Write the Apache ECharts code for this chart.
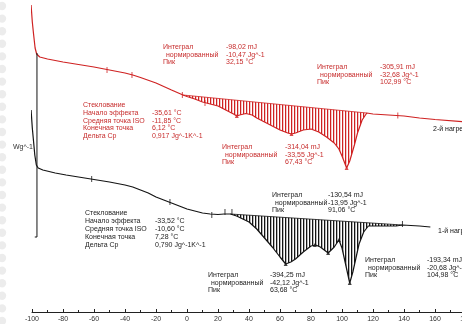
<!DOCTYPE html>
<html>
<head>
<meta charset="utf-8">
<script src="https://cdn.jsdelivr.net/npm/echarts@6/dist/echarts.min.js"></script>
<style>
  html, body { margin: 0; padding: 0; background: #fff; }
  #chart { width: 462px; height: 324px; }
</style>
</head>
<body>
<div id="chart"></div>
<script>
// DSC thermograms: temperature, °C vs. heat flow (relative, offset curves)
const xTicks = { min: -100, max: 180, step: 20 };

// 2nd heating run
const heat2 = [
  [-100.6, -0.05], [-99.8, -0.22], [-99, -0.34], [-98, -0.48], [-97, -0.54],
  [-95, -0.57], [-90, -0.59], [-80, -0.62], [-70, -0.645], [-60, -0.67],
  [-50, -0.70], [-40, -0.73], [-35, -0.75], [-30, -0.775], [-20, -0.83],
  [-10, -0.90], [-2.6, -0.95], [0, -0.965], [5, -0.99], [10, -1.02],
  [15, -1.04], [20, -1.06], [25, -1.10], [30, -1.14], [32.15, -1.16],
  [34, -1.15], [38, -1.135], [42, -1.15], [45, -1.18], [50, -1.22],
  [55, -1.26], [60, -1.30], [65, -1.33], [67.43, -1.34], [70, -1.33],
  [75, -1.30], [80, -1.29], [85, -1.32], [90, -1.37], [95, -1.43],
  [98, -1.49], [100, -1.56], [102.99, -1.68], [105, -1.61], [108, -1.45],
  [110, -1.33], [113, -1.20], [116, -1.13], [120, -1.14], [130, -1.15],
  [140, -1.16], [150, -1.18], [160, -1.195], [180, -1.22]
];
const heat2Baseline = [[-2.6, -0.95], [116, -1.13]];
const heat2Peaks = [[32.15, -1.16], [67.43, -1.34], [102.99, -1.68]];
const heat2Limits = [[-51.6, -0.70], [-35.5, -0.75], [-3, -0.95], [11.6, -1.03], [136, -1.155]];

// 1st heating run
const heat1 = [
  [-100.6, -1.10], [-99.8, -1.28], [-99.2, -1.38], [-98.2, -1.55], [-97.2, -1.65],
  [-96, -1.68], [-93, -1.70], [-85, -1.73], [-78, -1.75], [-70, -1.77],
  [-60, -1.795], [-50, -1.82], [-40, -1.85], [-35, -1.87], [-30, -1.90],
  [-25, -1.93], [-20, -1.97], [-15, -2.00], [-10, -2.03], [-5, -2.06],
  [0, -2.09], [5, -2.11], [10, -2.13], [15, -2.14], [20, -2.145],
  [24, -2.14], [28, -2.14], [32, -2.16], [36, -2.19], [40, -2.22],
  [45, -2.29], [50, -2.38], [55, -2.47], [60, -2.57], [63.68, -2.64],
  [67, -2.62], [70, -2.59], [75, -2.52], [80, -2.46], [83, -2.45],
  [86, -2.47], [91.06, -2.53], [95, -2.47], [98, -2.40], [100, -2.48],
  [102, -2.62], [104.98, -2.83], [107, -2.72], [109, -2.58], [111, -2.44],
  [114, -2.32], [117, -2.26], [125, -2.26], [135, -2.26], [139, -2.25],
  [150, -2.26], [157, -2.27]
];
const heat1Baseline = [[28, -2.14], [139, -2.25]];
const heat1Peaks = [[63.68, -2.64], [82.5, -2.45], [91.06, -2.53], [98, -2.40], [104.98, -2.83]];
const heat1Limits = [[-61.5, -1.79], [-11, -2.02], [16, -2.15], [24.5, -2.12], [29, -2.12], [139, -2.24]];

// vertical scale bar for heat flow
const scaleBar = [[-96.8, -0.53], [-96.8, -2.37], [-98.2, -2.37]];

// evaluation result texts
const evalBlocks = [
  { color: 'red', x: 163, vx: 226, y: 47, step: 7.7,
    labels: ['Интеграл', 'нормированный', 'Пик'], indent: [0, 3, 0],
    values: ['-98,02 mJ', '-10,47 Jg^-1', '32,15 °C'] },
  { color: 'red', x: 317, vx: 380, y: 67, step: 7.7,
    labels: ['Интеграл', 'нормированный', 'Пик'], indent: [0, 3, 0],
    values: ['-305,91 mJ', '-32,68 Jg^-1', '102,99 °C'] },
  { color: 'red', x: 83, vx: 152, y: 105, step: 7.8,
    labels: ['Стеклование', 'Начало эффекта', 'Средняя точка ISO', 'Конечная точка', 'Дельта Cp'],
    indent: [0, 0, 0, 0, 0],
    values: ['', '-35,61 °C', '-11,85 °C', '6,12 °C', '0,917 Jg^-1K^-1'] },
  { color: 'red', x: 222, vx: 285, y: 147, step: 7.7,
    labels: ['Интеграл', 'нормированный', 'Пик'], indent: [0, 3, 0],
    values: ['-314,04 mJ', '-33,55 Jg^-1', '67,43 °C'] },
  { color: 'black', x: 85, vx: 155, y: 213, step: 8,
    labels: ['Стеклование', 'Начало эффекта', 'Средняя точка ISO', 'Конечная точка', 'Дельта Cp'],
    indent: [0, 0, 0, 0, 0],
    values: ['', '-33,52 °C', '-10,60 °C', '7,28 °C', '0,790 Jg^-1K^-1'] },
  { color: 'black', x: 272, vx: 328, y: 195, step: 7.7,
    labels: ['Интеграл', 'нормированный', 'Пик'], indent: [0, 3, 0],
    values: ['-130,54 mJ', '-13,95 Jg^-1', '91,06 °C'] },
  { color: 'black', x: 208, vx: 270, y: 275, step: 7.7,
    labels: ['Интеграл', 'нормированный', 'Пик'], indent: [0, 3, 0],
    values: ['-394,25 mJ', '-42,12 Jg^-1', '63,68 °C'] },
  { color: 'black', x: 365, vx: 427, y: 260, step: 7.7,
    labels: ['Интеграл', 'нормированный', 'Пик'], indent: [0, 3, 0],
    values: ['-193,34 mJ', '-20,68 Jg^-1', '104,98 °C'] }
];

const RED = '#cf2222';
const RED_TEXT = '#c72b2b';
const BLACK = '#141414';
const FONT = '"Liberation Sans", Arial, sans-serif';

function hatchPattern(strong, soft) {
  const c = document.createElement('canvas');
  c.width = 3; c.height = 3;
  const ctx = c.getContext('2d');
  ctx.fillStyle = strong; ctx.fillRect(0, 0, 1, 3);
  ctx.fillStyle = soft; ctx.fillRect(1, 0, 1, 3);
  return { image: c, repeat: 'repeat' };
}

function hatchSeries(curve, base, fill) {
  return {
    type: 'custom', coordinateSystem: 'cartesian2d', silent: true, z: 1,
    data: [[base[0][0], base[0][1]]],
    renderItem: (params, api) => {
      const pts = [api.coord(base[0])];
      curve.forEach(p => { if (p[0] > base[0][0] && p[0] < base[1][0]) pts.push(api.coord(p)); });
      pts.push(api.coord(base[1]));
      return { type: 'polygon', shape: { points: pts }, style: { fill: fill } };
    }
  };
}

function lineSeries(data, color, width, z) {
  return { type: 'line', data: data, showSymbol: false, silent: true, z: z || 3,
           lineStyle: { color: color, width: width }, animation: false };
}

function markSeries(data, color, symbol, size) {
  return { type: 'scatter', data: data, symbol: symbol, symbolSize: size, silent: true, z: 4,
           itemStyle: { color: color }, animation: false };
}

const graphics = [];
// perforated paper edge
for (let i = 0; i < 26; i++) {
  graphics.push({ type: 'circle', shape: { cx: 2, cy: 6 + i * 12.6, r: 4.2 },
                  style: { fill: '#ececec' }, z: -10, silent: true });
}
evalBlocks.forEach(b => {
  const col = b.color === 'red' ? RED_TEXT : '#222';
  b.labels.forEach((t, i) => {
    graphics.push({ type: 'text', x: b.x + b.indent[i], y: b.y + i * b.step, silent: true,
      style: { text: t, fill: col, font: '7px ' + FONT, verticalAlign: 'middle' } });
    if (b.values[i]) {
      graphics.push({ type: 'text', x: b.vx, y: b.y + i * b.step, silent: true,
        style: { text: b.values[i], fill: col, font: '7px ' + FONT, verticalAlign: 'middle' } });
    }
  });
});
graphics.push({ type: 'text', x: 13, y: 147, silent: true,
  style: { text: 'Wg^-1', fill: '#333', font: '7px ' + FONT, verticalAlign: 'middle' } });
graphics.push({ type: 'text', x: 433, y: 129, silent: true,
  style: { text: '2-й нагрев', fill: '#111', font: '7px ' + FONT, verticalAlign: 'middle' } });
graphics.push({ type: 'text', x: 438, y: 231, silent: true,
  style: { text: '1-й нагрев', fill: '#111', font: '7px ' + FONT, verticalAlign: 'middle' } });

const chart = echarts.init(document.getElementById('chart'), null, { renderer: 'canvas' });
chart.setOption({
  backgroundColor: '#fff',
  animation: false,
  grid: { left: 32, right: -4, top: 0, bottom: 12, outerBoundsMode: 'none', containLabel: false },
  xAxis: {
    type: 'value', min: xTicks.min, max: xTicks.max, interval: xTicks.step,
    axisLine: { onZero: false, lineStyle: { color: '#222', width: 1 } },
    axisTick: { inside: true, length: 3, lineStyle: { color: '#222' } },
    minorTick: { show: true, splitNumber: 2, length: 2, lineStyle: { color: '#222' } },
    axisLabel: { fontSize: 7, color: '#333', margin: 4, fontFamily: FONT },
    splitLine: { show: false }
  },
  yAxis: { type: 'value', min: -3.12, max: 0, show: false, splitLine: { show: false } },
  series: [
    hatchSeries(heat2, heat2Baseline, hatchPattern(RED, 'rgba(207,34,34,0.25)')),
    hatchSeries(heat1, heat1Baseline, hatchPattern(BLACK, 'rgba(20,20,20,0.3)')),
    lineSeries(heat2Baseline, RED, 0.8),
    lineSeries(heat1Baseline, BLACK, 0.8),
    lineSeries(heat2, RED, 1.2),
    lineSeries(heat1, BLACK, 1.2),
    lineSeries(scaleBar, BLACK, 1),
    markSeries(heat2Peaks, RED, 'triangle', 4),
    markSeries(heat1Peaks, BLACK, 'triangle', 4),
    markSeries(heat2Limits, RED, 'rect', [1, 6]),
    markSeries(heat1Limits, BLACK, 'rect', [1, 6])
  ],
  graphic: graphics
});
</script>
</body>
</html>
